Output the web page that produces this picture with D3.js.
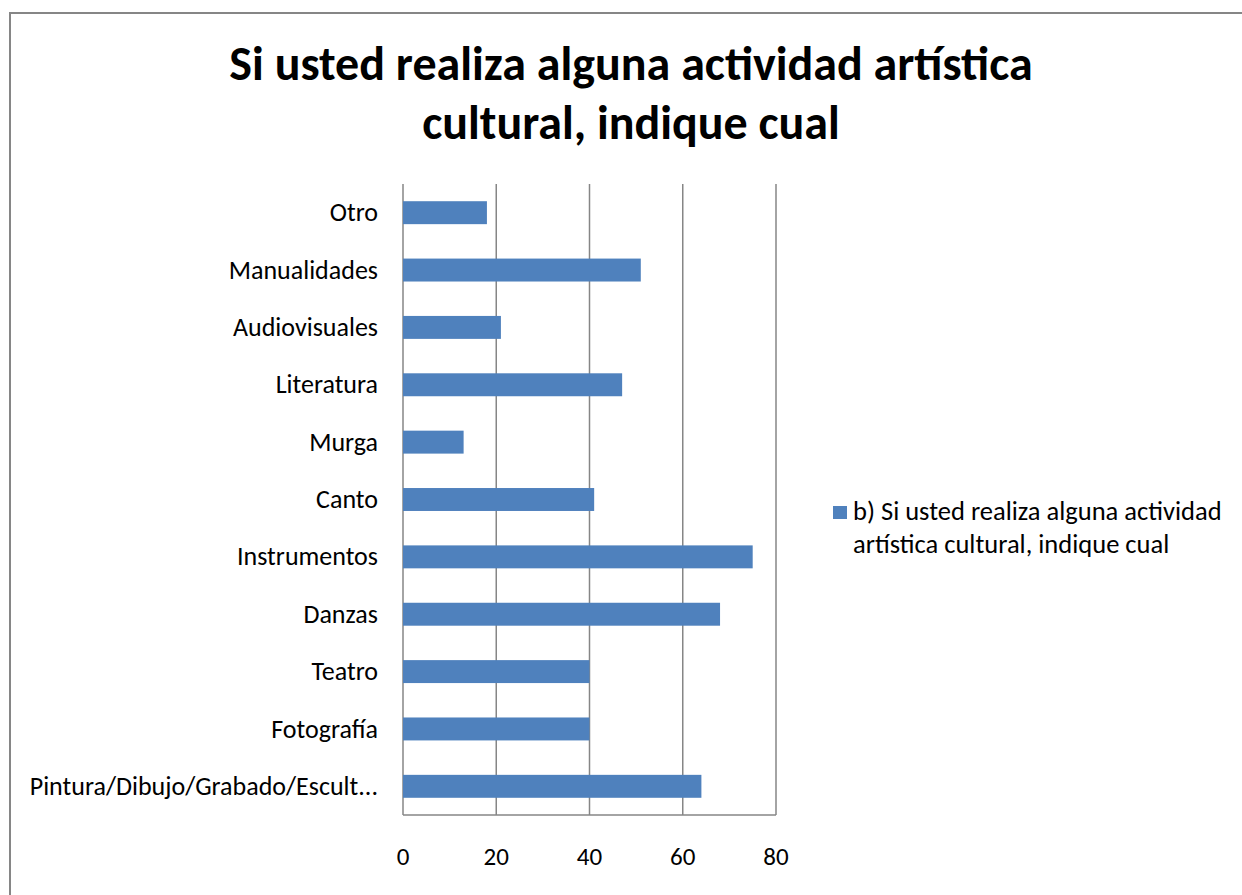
<!DOCTYPE html>
<html>
<head>
<meta charset="utf-8">
<script src="https://cdn.jsdelivr.net/npm/d3@7"></script>
<style>
  body { margin: 0; background: #fff; }
  text { font-family: Carlito, Calibri, Lato, sans-serif; }
</style>
</head>
<body>
<div id="chart"></div>
<script>
var categories = ["Otro", "Manualidades", "Audiovisuales", "Literatura", "Murga",
                  "Canto", "Instrumentos", "Danzas", "Teatro", "Fotografía",
                  "Pintura/Dibujo/Grabado/Escult..."];
var values = [18, 51, 21, 47, 13, 41, 75, 68, 40, 40, 64];
var xTicks = [0, 20, 40, 60, 80];
var titleLines = ["Si usted realiza alguna actividad artística", "cultural, indique cual"];
var legendLines = ["b) Si usted realiza alguna actividad", "artística cultural, indique cual"];

function init(){
    var w = 1242;
    var h = 895;
    var plot = {left: 403, right: 776, top: 184, bottom: 815};

    var svg = d3.select("#chart")
                .append("svg")
                .attr("width", w)
                .attr("height", h);

    // chart border
    svg.append("rect")
        .attr("x", 10).attr("y", 13)
        .attr("width", w + 20).attr("height", h + 20)
        .attr("fill", "none")
        .attr("stroke", "#868686")
        .attr("stroke-width", 2);

    // title
    svg.selectAll(".title")
        .data(titleLines)
        .enter()
        .append("text")
        .attr("class", "title")
        .attr("x", 631)
        .attr("y", function(d, i){ return 80 + i * 59; })
        .attr("text-anchor", "middle")
        .attr("font-size", 48)
        .attr("font-weight", "bold")
        .attr("fill", "#000")
        .text(function(d){ return d; });

    var xScale = d3.scaleLinear()
                    .domain([0, 80])
                    .range([plot.left, plot.right]);

    var yScale = d3.scaleBand()
                    .domain(categories)
                    .range([plot.top, plot.bottom])
                    .paddingInner(0.6)
                    .paddingOuter(0.3);

    // gridlines
    svg.selectAll(".grid")
        .data(xTicks)
        .enter()
        .append("line")
        .attr("x1", function(d){ return xScale(d); })
        .attr("x2", function(d){ return xScale(d); })
        .attr("y1", plot.top)
        .attr("y2", plot.bottom)
        .attr("stroke", "#868686")
        .attr("stroke-width", 1.5);

    // bottom axis line
    svg.append("line")
        .attr("x1", plot.left).attr("x2", plot.right)
        .attr("y1", plot.bottom).attr("y2", plot.bottom)
        .attr("stroke", "#868686")
        .attr("stroke-width", 1.5);

    // bars
    svg.selectAll(".bar")
        .data(values)
        .enter()
        .append("rect")
        .attr("class", "bar")
        .attr("x", xScale(0))
        .attr("y", function(d, i){ return yScale(categories[i]); })
        .attr("width", function(d){ return xScale(d) - xScale(0); })
        .attr("height", yScale.bandwidth())
        .attr("fill", "#4f81bd");

    // category labels
    svg.selectAll(".cat")
        .data(categories)
        .enter()
        .append("text")
        .attr("class", "cat")
        .attr("x", 378)
        .attr("y", function(d){ return yScale(d) + yScale.bandwidth() / 2; })
        .attr("dy", "0.33em")
        .attr("text-anchor", "end")
        .attr("font-size", 26)
        .attr("fill", "#000")
        .text(function(d){ return d; });

    // x tick labels
    svg.selectAll(".tick")
        .data(xTicks)
        .enter()
        .append("text")
        .attr("class", "tick")
        .attr("x", function(d){ return xScale(d); })
        .attr("y", 857)
        .attr("dy", "0.33em")
        .attr("text-anchor", "middle")
        .attr("font-size", 25)
        .attr("fill", "#000")
        .text(function(d){ return d; });

    // legend
    svg.append("rect")
        .attr("x", 833).attr("y", 506)
        .attr("width", 14).attr("height", 13)
        .attr("fill", "#4f81bd");

    svg.selectAll(".legend")
        .data(legendLines)
        .enter()
        .append("text")
        .attr("class", "legend")
        .attr("x", 853)
        .attr("y", function(d, i){ return 520 + i * 32.5; })
        .attr("font-size", 26.5)
        .attr("fill", "#000")
        .text(function(d){ return d; });
}

window.onload = init;
</script>
</body>
</html>
